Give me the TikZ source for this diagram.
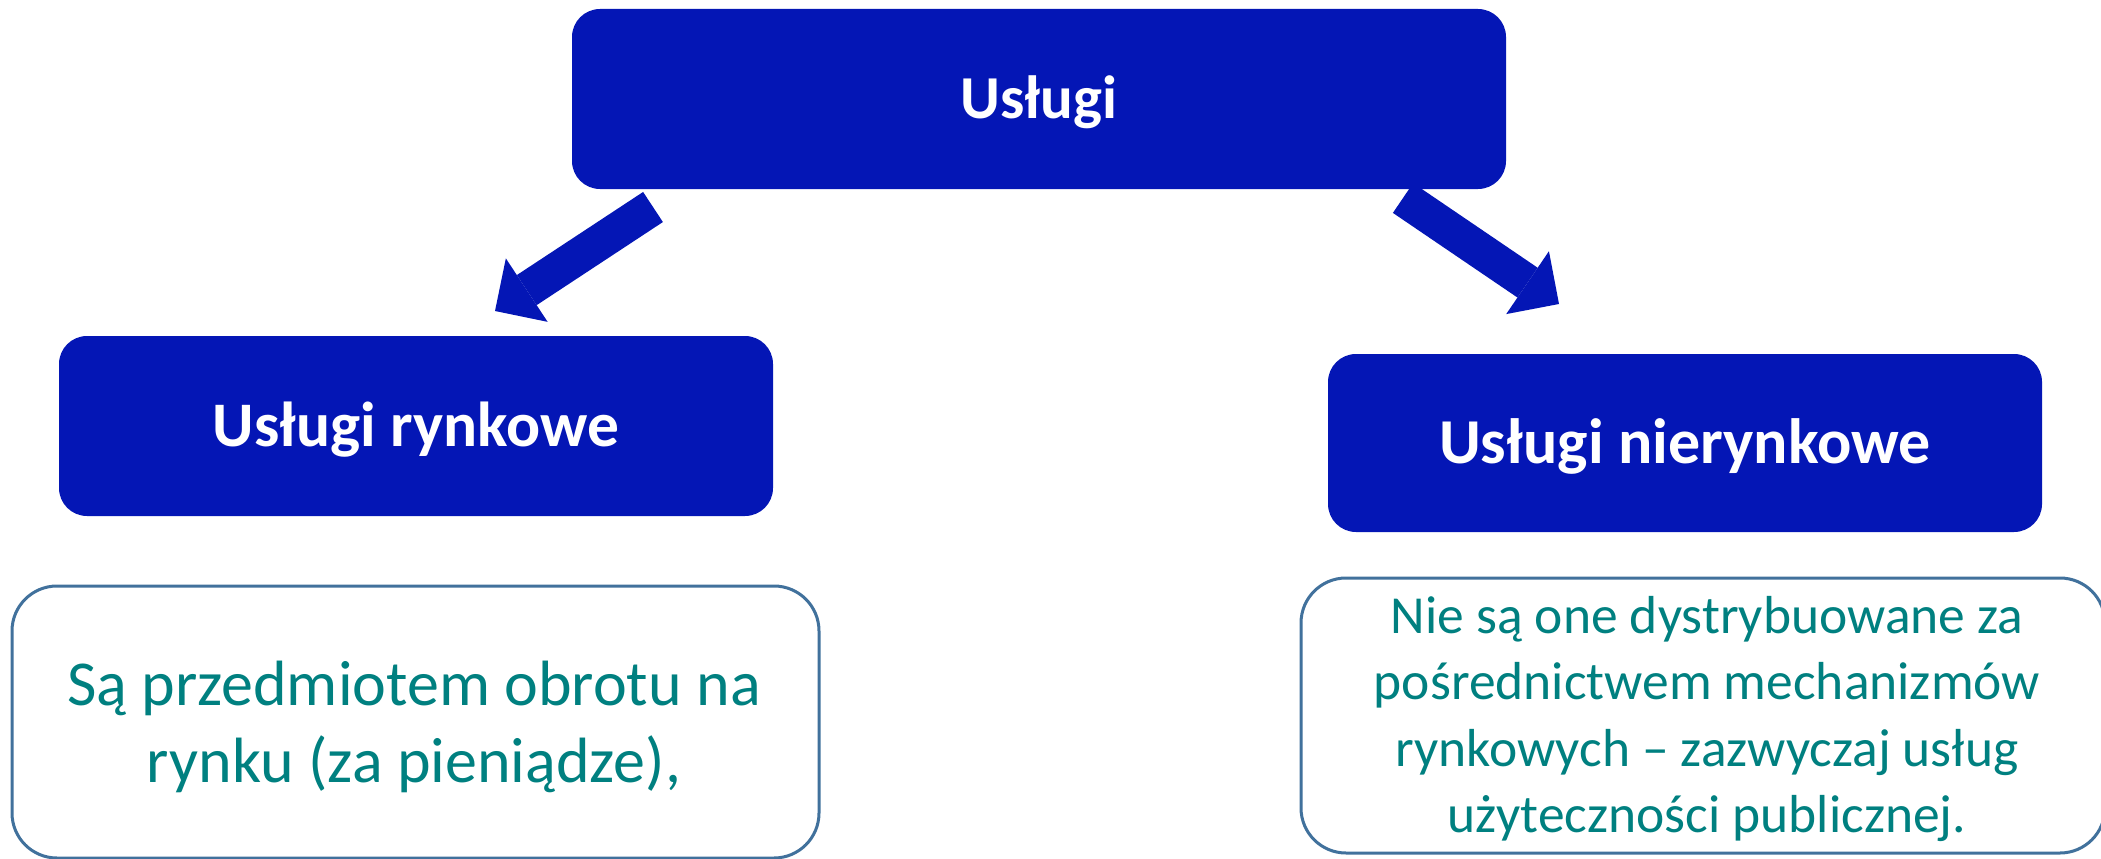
\documentclass[tikz,border=0pt]{standalone}
\usepackage{fontspec}
\setmainfont{Carlito}
\usetikzlibrary{arrows.meta}
\definecolor{hdrblue}{RGB}{4,22,181}
\definecolor{txtteal}{RGB}{0,128,128}
\definecolor{edgeblue}{RGB}{65,113,156}
\begin{document}
\begin{tikzpicture}[x=1pt,y=-1pt,
  hdrbox/.style={fill=hdrblue, draw=none, rounded corners=28pt, text=white, inner sep=0pt, text depth=0pt},
  infobox/.style={draw=edgeblue, line width=3pt, fill=white, rounded corners=45pt, inner sep=0pt},
  infotext/.style={text=txtteal, align=center, inner sep=0pt},
  blockarrow/.style={draw=hdrblue, line width=36pt, -{Triangle[width=76pt,length=38pt,line width=0pt]}}
]
\useasboundingbox (0,0) rectangle (2101,859);
% header boxes
\node[hdrbox, text height=39pt, minimum width=934pt, minimum height=180pt, font=\bfseries\fontsize{61}{72}\selectfont] (top) at (1039,99) {Usługi};
\node[hdrbox, text height=41pt, minimum width=714pt, minimum height=180pt, font=\bfseries\fontsize{63.5}{76}\selectfont] (left) at (416,426) {Usługi rynkowe};
\node[hdrbox, text height=41pt, minimum width=714pt, minimum height=178pt, font=\bfseries\fontsize{64}{76}\selectfont] (right) at (1685,443) {Usługi nierynkowe};
% info boxes
\node[infobox, minimum width=807pt, minimum height=272pt] (leftinfo) at (415.5,722) {};
\node[infobox, minimum width=804pt, minimum height=275pt] (rightinfo) at (1703,715.5) {};
\node[infotext, font=\fontsize{64}{77}\selectfont] (lefttext) at (414,727) {Są przedmiotem obrotu na\\rynku (za pieniądze),};
\node[infotext, font=\fontsize{53.5}{66.5}\selectfont] (righttext) at (1707,719) {Nie są one dystrybuowane za\\pośrednictwem mechanizmów\\rynkowych – zazwyczaj usług\\użyteczności publicznej.};
% block arrows
\coordinate (lastart) at (653,207);
\coordinate (laend) at (495,311);
\coordinate (rastart) at (1403,198);
\coordinate (raend) at (1559,304);
\draw[blockarrow] (lastart) -- (laend);
\draw[blockarrow] (rastart) -- (raend);
\end{tikzpicture}
\end{document}
